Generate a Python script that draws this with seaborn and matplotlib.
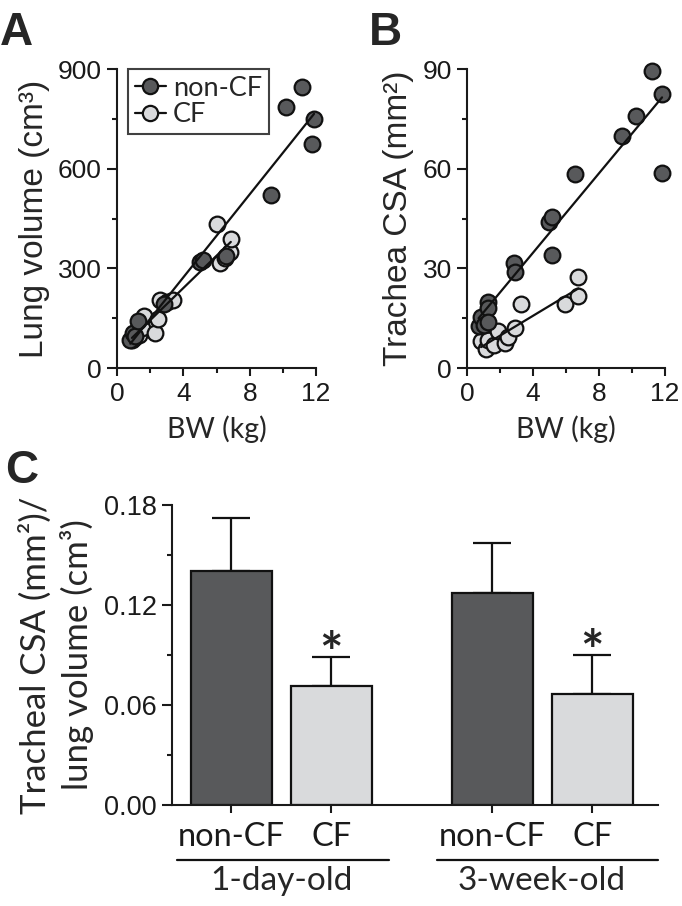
import matplotlib
matplotlib.use('Agg')
import matplotlib.pyplot as plt
from matplotlib.lines import Line2D
from matplotlib.ticker import MultipleLocator
import pandas as pd
import seaborn as sns

# panel A: body weight (kg) vs lung volume (cm3)
a_noncf_bw = [0.8, 0.98, 1.1, 1.29, 2.85, 5.0, 5.2, 6.57, 9.27, 10.19, 11.14, 11.74, 11.88]
a_noncf_vol = [85, 104, 95, 142, 193, 318, 325, 337, 520, 786, 845, 674, 750]
a_cf_bw = [0.9, 1.0, 1.3, 1.3, 1.5, 1.65, 2.29, 2.49, 2.6, 3.0, 3.4, 6.01, 6.2, 6.5, 6.8, 6.86]
a_cf_vol = [85, 90, 100, 130, 120, 157, 104, 147, 205, 200, 205, 435, 315, 330, 350, 387]

# panel B: body weight (kg) vs trachea CSA (mm2)
b_noncf_bw = [0.7, 0.85, 1.0, 1.25, 1.25, 1.3, 2.87, 2.9, 4.98, 5.15, 5.15, 6.55, 9.37, 10.24, 11.19, 11.8, 11.82]
b_noncf_csa = [12.5, 15.5, 13, 20, 18, 14, 31.7, 29, 44, 45.4, 34, 58.5, 69.8, 75.9, 89.4, 82.6, 58.6]
b_cf_bw = [0.85, 1.15, 1.25, 1.65, 1.9, 2.3, 2.46, 2.9, 3.27, 5.94, 6.75, 6.75]
b_cf_csa = [8, 5.8, 8.3, 7, 11, 7.4, 9.4, 12, 19.2, 19.2, 21.7, 27.3]

# panel C: tracheal CSA / lung volume, mean and SEM
ages = ['1-day-old', '1-day-old', '3-week-old', '3-week-old']
genotypes = ['non-CF', 'CF', 'non-CF', 'CF']
ratio_mean = [0.1404, 0.0714, 0.127, 0.0664]
ratio_sem = [0.032, 0.0176, 0.030, 0.0236]
signif = ['', '*', '', '*']

DARK = '#58595b'
LIGHT = '#d9dadc'
TICK_FONT = ['Liberation Sans', 'DejaVu Sans']
LABEL_FONT = ['Lato', 'DejaVu Sans']

sns.set_style('ticks')
plt.rcParams['font.family'] = TICK_FONT
plt.rcParams['axes.linewidth'] = 1.5
plt.rcParams['xtick.major.width'] = 1.5
plt.rcParams['ytick.major.width'] = 1.5
plt.rcParams['xtick.minor.width'] = 1.5
plt.rcParams['ytick.minor.width'] = 1.5
plt.rcParams['xtick.major.size'] = 6
plt.rcParams['ytick.major.size'] = 7
plt.rcParams['xtick.minor.size'] = 3.5
plt.rcParams['ytick.minor.size'] = 3.5
plt.rcParams['xtick.color'] = '#1a1a1a'
plt.rcParams['ytick.color'] = '#1a1a1a'
plt.rcParams['axes.edgecolor'] = '#1a1a1a'

fig = plt.figure(figsize=(6.82, 9.06), dpi=100)
ax_a = fig.add_axes([0.1716, 0.5938, 0.2918, 0.3300])
ax_b = fig.add_axes([0.6848, 0.5938, 0.2903, 0.3300])
ax_c = fig.add_axes([0.2522, 0.1115, 0.7126, 0.3311])

pt_kws = dict(s=128, edgecolor='#111111', linewidth=1.6, clip_on=False, zorder=3)
line_kws = dict(scatter=False, ci=None, color='#111111', line_kws=dict(lw=1.6, zorder=4))


def scatter_panel(ax, noncf_x, noncf_y, cf_x, cf_y, ymax, ystep, ylabel, ylab_x):
    sns.scatterplot(x=cf_x, y=cf_y, color=LIGHT, ax=ax, **pt_kws)
    sns.scatterplot(x=noncf_x, y=noncf_y, color=DARK, ax=ax, **pt_kws)
    sns.regplot(x=noncf_x, y=noncf_y, ax=ax, **line_kws)
    sns.regplot(x=cf_x, y=cf_y, ax=ax, **line_kws)
    ax.set_xlim(0, 12)
    ax.set_ylim(0, ymax)
    ax.xaxis.set_major_locator(MultipleLocator(4))
    ax.xaxis.set_minor_locator(MultipleLocator(2))
    ax.yaxis.set_major_locator(MultipleLocator(ystep))
    ax.yaxis.set_minor_locator(MultipleLocator(ystep / 2))
    ax.tick_params(axis='both', which='major', labelsize=19, pad=4)
    ax.tick_params(axis='x', which='major', length=6)
    sns.despine(ax=ax)
    ax.set_xlabel('BW (kg)', fontsize=20.5, family=LABEL_FONT)
    ax.xaxis.set_label_coords(0.5, -0.16)
    ax.set_ylabel(ylabel, fontsize=24)
    ax.yaxis.set_label_coords(ylab_x, 0.5)


scatter_panel(ax_a, a_noncf_bw, a_noncf_vol, a_cf_bw, a_cf_vol, 900, 300,
              'Lung volume (cm³)', -0.335)
scatter_panel(ax_b, b_noncf_bw, b_noncf_csa, b_cf_bw, b_cf_csa, 90, 30,
              'Trachea CSA (mm²)', -0.27)

handles = [
    Line2D([], [], color='#111111', lw=1.6, marker='o', markersize=11,
           markerfacecolor=DARK, markeredgecolor='#111111', markeredgewidth=1.6),
    Line2D([], [], color='#111111', lw=1.6, marker='o', markersize=11,
           markerfacecolor=LIGHT, markeredgecolor='#111111', markeredgewidth=1.6),
]
leg = ax_a.legend(handles, ['non-CF', 'CF'], loc='upper left', bbox_to_anchor=(0.055, 1.0),
                  borderaxespad=0, fancybox=False, frameon=True, handlelength=1.15,
                  handletextpad=0.25, labelspacing=0.05, borderpad=0.25,
                  prop={'family': LABEL_FONT, 'size': 19.5})
leg.get_frame().set_edgecolor('#111111')
leg.get_frame().set_linewidth(1.5)

# panel C
df = pd.DataFrame({'age': ages, 'genotype': genotypes, 'ratio': ratio_mean, 'sem': ratio_sem})
sns.barplot(data=df, x='age', y='ratio', hue='genotype', hue_order=['non-CF', 'CF'],
            palette=[DARK, LIGHT], width=0.766, gap=0.19, edgecolor='#111111',
            linewidth=1.6, errorbar=None, legend=False, ax=ax_c, zorder=2)
bars = sorted(ax_c.patches, key=lambda p: p.get_x())
centers = [p.get_x() + p.get_width() / 2 for p in bars]
ax_c.errorbar(centers, ratio_mean, yerr=[[0] * len(ratio_sem), ratio_sem], fmt='none',
              ecolor='#111111', elinewidth=1.6, capsize=14, capthick=1.6, zorder=1)
for x, m, s, mark in zip(centers, ratio_mean, ratio_sem, signif):
    if mark:
        ax_c.text(x, m + s - 0.009, mark, ha='center', va='baseline', fontsize=40,
                  fontweight='bold', family=LABEL_FONT)

ax_c.set_ylim(0, 0.18)
ax_c.set_xlim(-0.418, 1.444)
ax_c.yaxis.set_major_locator(MultipleLocator(0.06))
ax_c.yaxis.set_minor_locator(MultipleLocator(0.03))
ax_c.yaxis.set_major_formatter(matplotlib.ticker.FormatStrFormatter('%.2f'))
ax_c.set_xticks(centers)
ax_c.set_xticklabels(genotypes, family=LABEL_FONT, fontsize=23.5)
ax_c.tick_params(axis='y', which='major', labelsize=19.5, pad=4)
ax_c.tick_params(axis='x', which='major', length=6, pad=6)
sns.despine(ax=ax_c)
ax_c.set_xlabel('')
ax_c.set_ylabel('Tracheal CSA (mm²)/\nlung volume (cm³)', fontsize=25,
                family=LABEL_FONT, linespacing=1.3)
ax_c.yaxis.set_label_coords(-0.16, 0.5)

# group brackets under the tick labels
trans = ax_c.get_xaxis_transform()
for age, lo, hi, mid in [('1-day-old', -0.398, 0.414, 0.0), ('3-week-old', 0.598, 1.444, 1.0)]:
    ax_c.plot([lo, hi], [-0.183, -0.183], color='#111111', lw=1.6, transform=trans, clip_on=False)
    ax_c.text(mid, -0.203, age, transform=trans,
              ha='center', va='top', fontsize=24, family=LABEL_FONT)

for letter, x, y in [('A', 0.0, 1 - 11 / 906), ('B', 369 / 682, 1 - 11 / 906), ('C', 5 / 682, 1 - 449 / 906)]:
    fig.text(x, y, letter, ha='left', va='top', fontsize=33, fontweight='bold', family=TICK_FONT)

fig.savefig('out.png', dpi=100)
